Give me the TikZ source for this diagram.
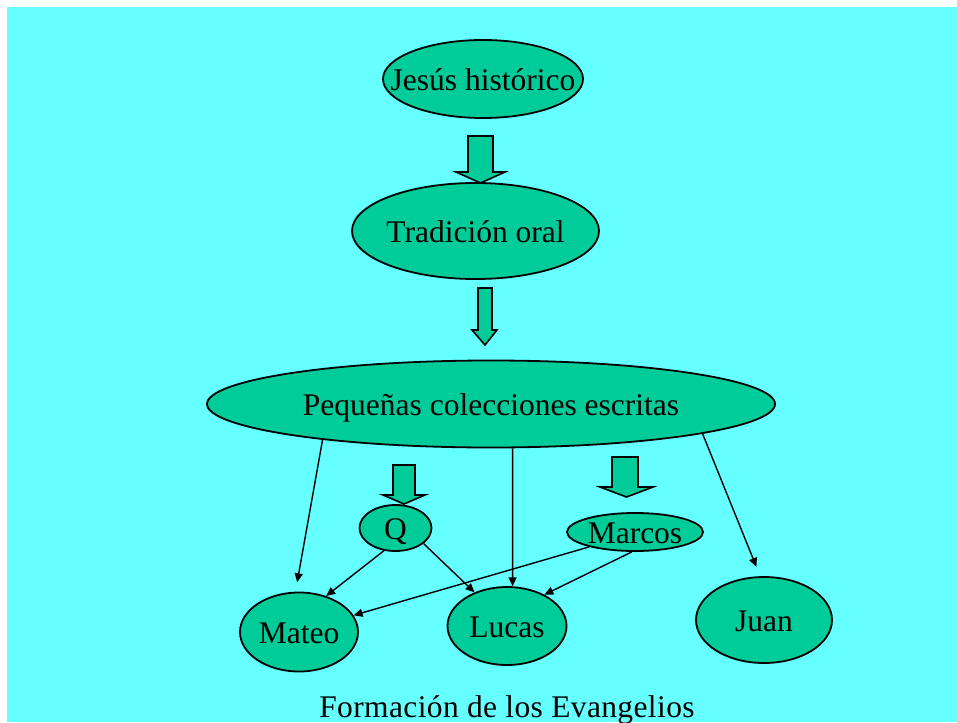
\documentclass[tikz,border=0pt]{standalone}
\usepackage{fontspec}
\setmainfont{Liberation Serif}
\usetikzlibrary{shapes.geometric,arrows.meta}
\definecolor{bgcyan}{RGB}{102,255,255}
\definecolor{nodegreen}{RGB}{0,204,153}
\newcommand{\ovaltext}[1]{\smash{\makebox[0pt]{\raisebox{-0.35em}{#1}}}}
\begin{document}
\begin{tikzpicture}[x=1pt,y=-1pt,
  oval/.style={ellipse, draw=black, line width=1.8pt, fill=nodegreen, inner sep=0pt, font=\fontsize{31.5}{37}\selectfont},
  link/.style={draw=black, line width=1.4pt, -{Triangle[length=9pt,width=8pt]}},
  blockarrow/.style={draw=black, line width=1.6pt, fill=nodegreen, line join=miter}]
\useasboundingbox (0,0) rectangle (957,722);
\fill[white] (0,0) rectangle (957,722);
\fill[bgcyan] (7,7) rectangle (957,722);

\node[oval, minimum width=200pt, minimum height=78pt] (jesus) at (483,79) {\ovaltext{Jesús histórico}};
\node[oval, minimum width=247pt, minimum height=96pt] (tradicion) at (475.5,231) {\ovaltext{Tradición oral}};
\node[oval, minimum width=568pt, minimum height=87pt] (pequenas) at (491,404) {\ovaltext{Pequeñas colecciones escritas}};
\node[oval, minimum width=72pt, minimum height=46pt] (q) at (395.5,528) {\ovaltext{Q}};
\node[oval, minimum width=136pt, minimum height=38pt] (marcos) at (635,532) {\ovaltext{Marcos}};
\node[oval, minimum width=118pt, minimum height=79pt] (mateo) at (299,632) {\ovaltext{Mateo}};
\node[oval, minimum width=119pt, minimum height=78pt] (lucas) at (507,626) {\ovaltext{Lucas}};
\node[oval, minimum width=136pt, minimum height=86pt] (juan) at (764,620) {\ovaltext{Juan}};

\node[font=\fontsize{31.5}{37}\addfontfeature{LetterSpace=1.2}\selectfont, anchor=base, inner sep=0pt] (title) at (507,717) {Formación de los Evangelios};

% block arrows
\draw[blockarrow] (468,136) -- (493,136) -- (493,172) -- (505,172) -- (480.5,183) -- (456,172) -- (468,172) -- cycle;
\draw[blockarrow] (478,288) -- (492,288) -- (492,330) -- (497,330) -- (485,345) -- (472,330) -- (478,330) -- cycle;
\draw[blockarrow] (393,465) -- (415,465) -- (415,495) -- (425,495) -- (404,504) -- (383,495) -- (393,495) -- cycle;
\draw[blockarrow] (612,457) -- (638,457) -- (638,487) -- (653,487) -- (626.5,497) -- (600,487) -- (612,487) -- cycle;

% connectors
\draw[link, shorten >=9.5pt] (pequenas.192.5) -- (mateo.95);
\draw[link] (q.243) -- (mateo.53);
\draw[link] (q.331) -- (lucas.134);
\draw[link] (pequenas.296) -- (lucas.82);
\draw[link] (marcos.198) -- (mateo.17);
\draw[link] (marcos.261) -- (lucas.40);
\draw[link, shorten >=10pt] (pequenas.352.3) -- (juan.95);
\end{tikzpicture}
\end{document}
